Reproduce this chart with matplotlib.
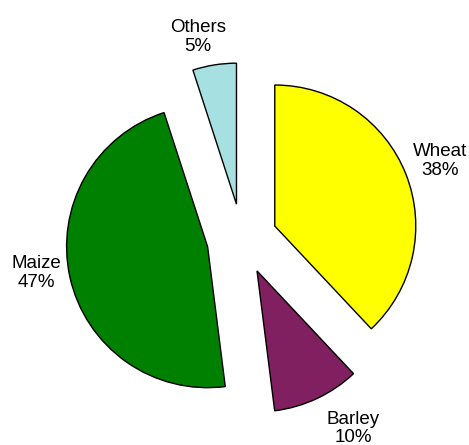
import matplotlib
matplotlib.use("Agg")
import matplotlib.pyplot as plt

categories = ["Wheat", "Barley", "Maize", "Others"]
shares = [38, 10, 47, 5]
colors = ["#FFFF00", "#802060", "#008000", "#A6E0E0"]

plt.rcParams["font.family"] = ["Liberation Sans", "DejaVu Sans"]

W, H = 469, 445
R = 141
fig = plt.figure(figsize=(W / 100, H / 100), dpi=100)
ax = fig.add_axes([0, 0, 1, 1])

labels = [f"{c}\n{s}%" for c, s in zip(categories, shares)]
# explode is in data units here (axes are in pixels)
wedges, texts = ax.pie(
    shares,
    labels=labels,
    colors=colors,
    startangle=90,
    counterclock=False,
    explode=[0.25 * R] * len(shares),
    radius=R,
    center=(242, 206),
    labeldistance=1.25,
    wedgeprops=dict(edgecolor="black", linewidth=1.0),
    textprops=dict(fontsize=13.5, linespacing=1.12),
    frame=True,
)
# small nudges so labels sit where the original put them
nudges = [(1, 0), (21, 2), (1, 12), (-11, -7)]
for t, (dx, dy) in zip(texts, nudges):
    x, y = t.get_position()
    t.set_position((x + dx, y + dy))
    t.set_horizontalalignment("center")
    t.set_verticalalignment("center")
    t.set_multialignment("center")

ax.set_xlim(0, W)
ax.set_ylim(0, H)
ax.set_aspect("equal")
ax.axis("off")

fig.savefig("out.png", dpi=100)
plt.close(fig)
